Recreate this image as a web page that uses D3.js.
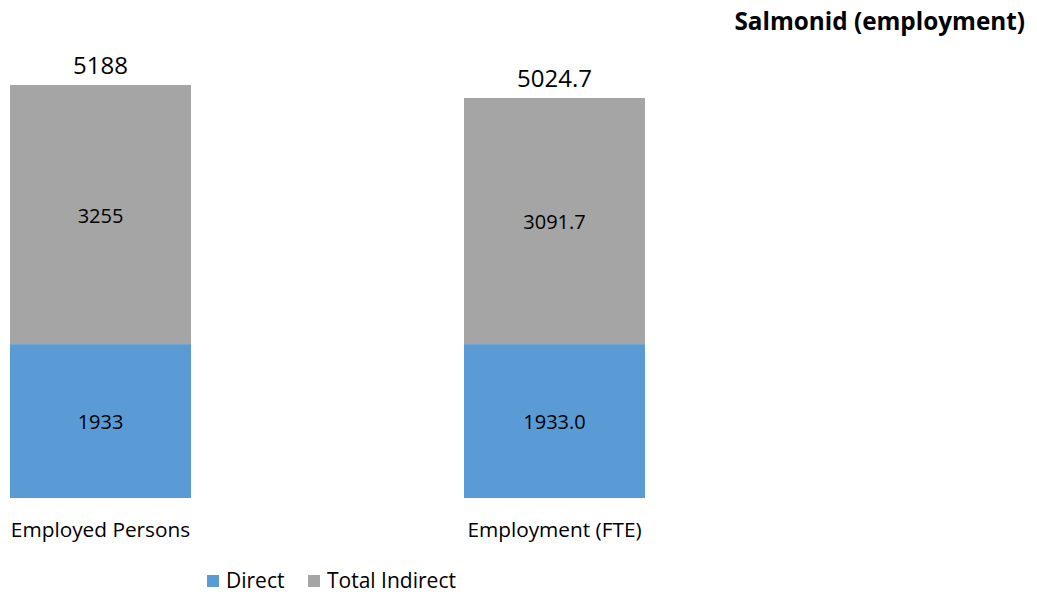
<!DOCTYPE html>
<html><head><meta charset="utf-8">
<script src="https://cdn.jsdelivr.net/npm/d3@7"></script>
<style>body{margin:0;background:#fff}svg{display:block}</style>
</head><body>
<svg id="c" width="1037" height="599"></svg>
<script>
const categories = ["Employed Persons", "Employment (FTE)"];
const direct = [1933, 1933.0];
const indirect = [3255, 3091.7];
const totals = [5188, 5024.7];
const directLabels = ["1933", "1933.0"];
const indirectLabels = ["3255", "3091.7"];
const totalLabels = ["5188", "5024.7"];
const seriesNames = ["Direct", "Total Indirect"];
const colors = ["#5B9BD5", "#A5A5A5"];

const svg = d3.select("#c");
const font = "'Open Sans', sans-serif";
const x = d3.scaleBand().domain(categories).range([10, 645]).paddingInner(0.6013).paddingOuter(0);
const y = d3.scaleLinear().domain([0, 5188]).range([498, 85]);

const rows = categories.map((c, i) => ({c, d: direct[i], ind: indirect[i], t: totals[i], dl: directLabels[i], il: indirectLabels[i], tl: totalLabels[i]}));

const g = svg.append("g");
g.selectAll("rect.d").data(rows).join("rect").attr("class","d")
  .attr("x", r => x(r.c)).attr("width", x.bandwidth())
  .attr("y", r => y(r.d)).attr("height", r => y(0) - y(r.d)).attr("fill", colors[0]);
g.selectAll("rect.i").data(rows).join("rect").attr("class","i")
  .attr("x", r => x(r.c)).attr("width", x.bandwidth())
  .attr("y", r => y(r.d + r.ind)).attr("height", r => y(r.d) - y(r.d + r.ind)).attr("fill", colors[1]);

const cx = r => x(r.c) + x.bandwidth() / 2;
g.selectAll("text.dl").data(rows).join("text").attr("class","dl")
  .attr("x", cx).attr("y", r => (y(0) + y(r.d)) / 2 + 8)
  .attr("text-anchor","middle").style("font", `20px ${font}`).attr("fill","#000").text(r => r.dl);
g.selectAll("text.il").data(rows).join("text").attr("class","il")
  .attr("x", cx).attr("y", r => (y(r.d) + y(r.d + r.ind)) / 2 + 8)
  .attr("text-anchor","middle").style("font", `20px ${font}`).attr("fill","#000").text(r => r.il);
g.selectAll("text.tl").data(rows).join("text").attr("class","tl")
  .attr("x", cx).attr("y", r => y(r.t) - 11)
  .attr("text-anchor","middle").style("font", `24px ${font}`).attr("fill","#000").text(r => r.tl);

const xAxis = svg.append("g").attr("transform", "translate(0,498)")
  .call(d3.axisBottom(x).tickSize(0).tickPadding(24));
xAxis.select(".domain").remove();
xAxis.selectAll("text").style("font", `20.8px ${font}`).attr("fill", "#000");

svg.append("text").attr("x", 1025).attr("y", 30).attr("text-anchor","end")
  .style("font", `bold 24.3px ${font}`).attr("fill","#000").text("Salmonid (employment)");

const leg = svg.append("g");
const legX = [207, 308];
seriesNames.forEach((n, i) => {
  leg.append("rect").attr("x", legX[i]).attr("y", 575).attr("width", 12).attr("height", 12).attr("fill", colors[i]);
  leg.append("text").attr("x", legX[i] + 19).attr("y", 588).style("font", `21px ${font}`).attr("fill","#000").text(n);
});
</script>
</body></html>
